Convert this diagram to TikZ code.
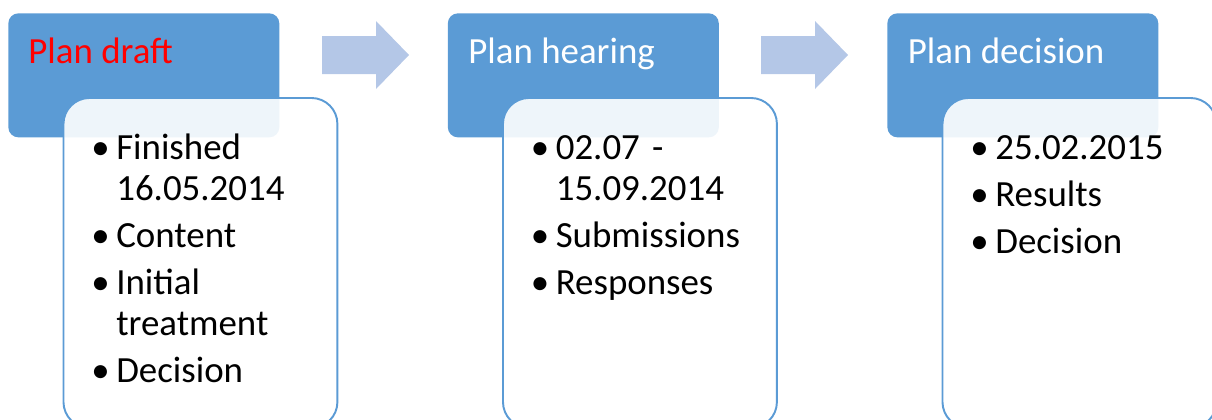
\documentclass[tikz,border=0pt]{standalone}
\usepackage{fontspec}
\setmainfont{Carlito}
\usepackage{tikz}
\usetikzlibrary{positioning}
\definecolor{headblue}{RGB}{91,155,213}
\definecolor{arrowblue}{RGB}{180,199,231}
\definecolor{draftred}{RGB}{255,0,0}

\newcommand{\bodyfont}{\fontsize{21}{23.3}\selectfont\setlength{\parskip}{3.6pt}}
\newcommand{\bitem}[1]{\par\hangindent=14.2pt\hangafter=1\noindent\makebox[14.2pt][l]{\textbullet}#1}

\tikzset{
  header/.style={rectangle, rounded corners=0.2cm, fill=headblue, draw=none,
    minimum width=5.42cm, minimum height=2.48cm, anchor=north west, inner sep=0},
  body/.style={rectangle, rounded corners=0.52cm, fill=white, fill opacity=0.9,
    draw=headblue, line width=1.1pt, minimum width=5.48cm, minimum height=6.6cm,
    anchor=north west, inner sep=0},
  headtext/.style={anchor=base west, inner sep=0, font=\fontsize{21}{25}\selectfont},
  bodytext/.style={anchor=base west, inner sep=0, text width=5cm, align=left, font=\bodyfont},
  blockarrow/.style={fill=arrowblue, draw=none}
}

\begin{document}
\begin{tikzpicture}[x=0.02cm, y=-0.02cm]
  \useasboundingbox (0,0) rectangle (1212,419);

  % Stage 1: plan draft
  \node[header] (hd1) at (8,13) {};
  \node[headtext, text=draftred] (ttl1) at (28,63) {Plan draft};
  \node[body] (bd1) at (62.5,97) {};
  \node[bodytext] (lst1) at (91,112) {%
    \bitem{Finished\newline 16.05.2014}
    \bitem{Content}
    \bitem{Initial\newline treatment}
    \bitem{Decision}};

  % Arrow between stage 1 and 2
  \fill[blockarrow] (322,36) -- (376,36) -- (376,21) -- (409,55) -- (376,89) -- (376,74) -- (322,74) -- cycle;

  % Stage 2: plan hearing
  \node[header] (hd2) at (447.5,13) {};
  \node[headtext, text=white] (ttl2) at (468,63) {Plan hearing};
  \node[body] (bd2) at (502,97) {};
  \node[bodytext] (lst2) at (530.5,112) {%
    \bitem{02.07\ -\newline 15.09.2014}
    \bitem{Submissions}
    \bitem{Responses}};

  % Arrow between stage 2 and 3
  \fill[blockarrow] (761,36) -- (815,36) -- (815,21) -- (848,55) -- (815,89) -- (815,74) -- (761,74) -- cycle;

  % Stage 3: plan decision
  \node[header] (hd3) at (887,13) {};
  \node[headtext, text=white] (ttl3) at (907.5,63) {Plan decision};
  \node[body] (bd3) at (941.5,97) {};
  \node[bodytext] (lst3) at (970,112) {%
    \bitem{25.02.2015}
    \bitem{Results}
    \bitem{Decision}};
\end{tikzpicture}
\end{document}
